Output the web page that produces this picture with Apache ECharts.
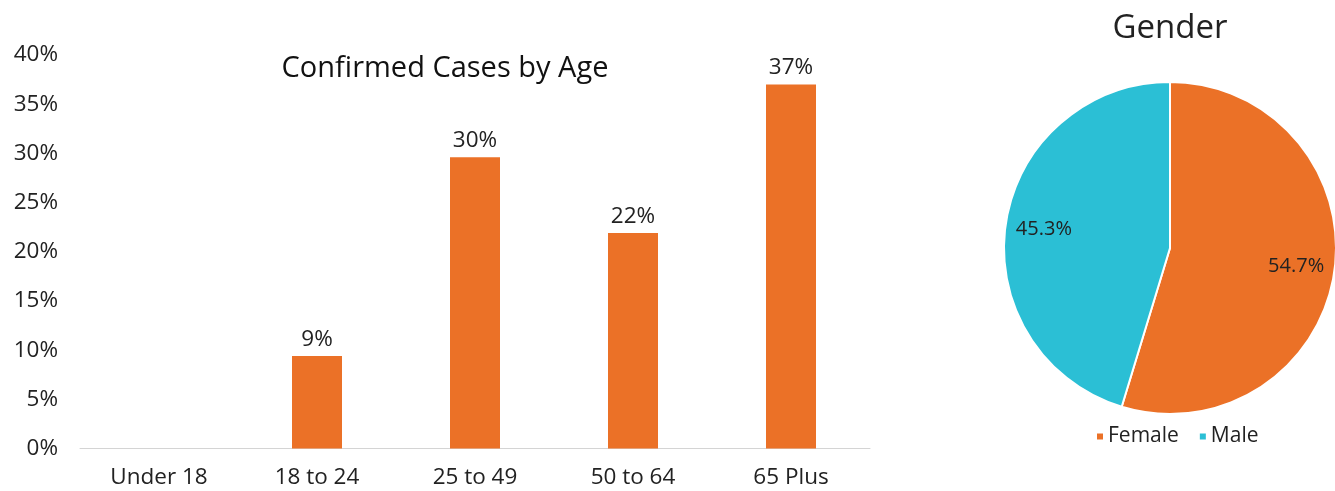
<!DOCTYPE html>
<html>
<head>
<meta charset="utf-8">
<script src="https://cdn.jsdelivr.net/npm/echarts@6/dist/echarts.min.js"></script>
<style>
html,body{margin:0;padding:0;background:#fff;}
#c{width:1335px;height:491px;}
</style>
</head>
<body>
<div id="c"></div>
<script>
const ageCategories = ['Under 18', '18 to 24', '25 to 49', '50 to 64', '65 Plus'];
const ageValues = [0, 9.4, 29.6, 21.9, 37.0];
const yTicks = [0, 5, 10, 15, 20, 25, 30, 35, 40];
const genderNames = ['Female', 'Male'];
const genderValues = [54.7, 45.3];
const genderColors = ['#EB7127', '#2BBFD5'];

const FONT = '"Open Sans", sans-serif';
const chart = echarts.init(document.getElementById('c'));
const R = 166;
const pieData = genderNames.map((n, i) => ({ name: n, value: genderValues[i], itemStyle: { color: genderColors[i] } }));

chart.setOption({
  animation: false,
  title: [
    { text: 'Confirmed Cases by Age', left: 440, top: 49, textAlign: 'center',
      textStyle: { fontFamily: '"Open Sans", sans-serif', fontSize: 29, fontWeight: 'normal', color: '#111' } },
    { text: 'Gender', left: 1165, top: 7, textAlign: 'center',
      textStyle: { fontFamily: FONT, fontSize: 33, fontWeight: 'normal', color: '#222' } }
  ],
  grid: { left: 80, right: 465, top: 55, bottom: 42.5, containLabel: false },
  xAxis: {
    type: 'category', data: ageCategories,
    axisLine: { lineStyle: { color: '#d4d4d4', width: 1 } },
    axisTick: { show: false },
    axisLabel: { fontFamily: FONT, fontSize: 22.5, color: '#222', margin: 18 }
  },
  yAxis: {
    type: 'value', min: yTicks[0], max: yTicks[yTicks.length - 1], interval: 5,
    splitLine: { show: false }, axisLine: { show: false }, axisTick: { show: false },
    axisLabel: { fontFamily: FONT, fontSize: 22.5, color: '#222', margin: 22, formatter: v => v + '%' }
  },
  legend: {
    data: genderNames, left: 1090, top: 421, itemWidth: 8, itemHeight: 8, itemGap: 19, icon: 'rect',
    textStyle: { fontFamily: FONT, fontSize: 21, color: '#222', padding: [0, 0, 0, -1] }
  },
  series: [
    {
      type: 'bar', data: ageValues, barWidth: 50,
      itemStyle: { color: '#EB7127' },
      label: { show: true, position: 'top', distance: 5, fontFamily: FONT, fontSize: 22.5, color: '#222',
        formatter: p => p.value > 0 ? Math.round(p.value) + '%' : '' }
    },
    {
      type: 'pie', center: [1170, 248], radius: [0, R], startAngle: 90, clockwise: true,
      data: pieData,
      itemStyle: { borderColor: '#fff', borderWidth: 2 },
      label: { show: false }, labelLine: { show: false }, emphasis: { disabled: true }
    },
    {
      type: 'pie', center: [1170, 248], radius: [R * 0.5, R], startAngle: 90, clockwise: true,
      data: pieData.map(d => ({ name: d.name, value: d.value })),
      itemStyle: { color: 'rgba(0,0,0,0)' }, silent: true, legendHoverLink: false,
      label: { show: true, position: 'inside', fontFamily: FONT, fontSize: 20, color: '#222',
        formatter: p => p.value.toFixed(1) + '%' },
      labelLine: { show: false }, emphasis: { disabled: true }
    }
  ]
});
</script>
</body>
</html>
